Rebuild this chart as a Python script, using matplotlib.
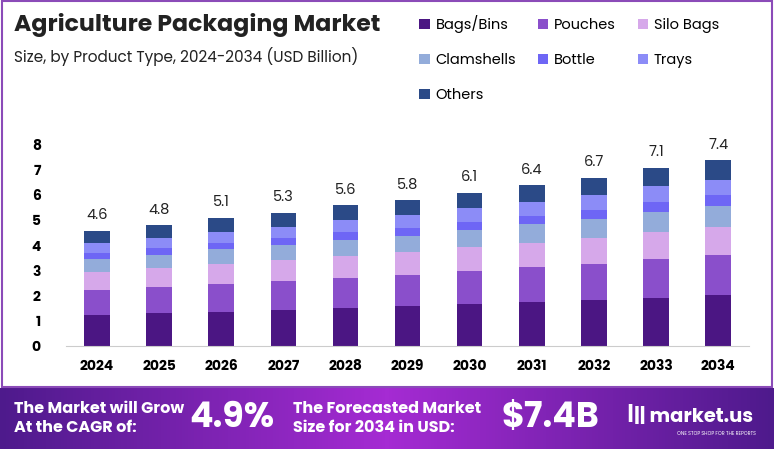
import matplotlib.pyplot as plt
import numpy as np
from matplotlib.patches import Rectangle

plt.rcParams['font.family'] = ['Poppins', 'Lato', 'DejaVu Sans']

years = ['2024', '2025', '2026', '2027', '2028', '2029', '2030', '2031', '2032', '2033', '2034']
totals = [4.6, 4.8, 5.1, 5.3, 5.6, 5.8, 6.1, 6.4, 6.7, 7.1, 7.4]
bags = [1.24, 1.30, 1.37, 1.43, 1.51, 1.58, 1.66, 1.74, 1.82, 1.93, 2.03]
pouches = [1.00, 1.05, 1.11, 1.16, 1.22, 1.27, 1.33, 1.40, 1.46, 1.55, 1.60]
silo = [0.72, 0.75, 0.79, 0.82, 0.87, 0.89, 0.94, 0.98, 1.02, 1.07, 1.10]
clam = [0.52, 0.54, 0.58, 0.60, 0.63, 0.66, 0.69, 0.73, 0.76, 0.80, 0.84]
bottle = [0.24, 0.25, 0.27, 0.28, 0.30, 0.31, 0.33, 0.34, 0.36, 0.40, 0.44]
trays = [0.40, 0.42, 0.44, 0.46, 0.49, 0.50, 0.53, 0.56, 0.59, 0.62, 0.60]
others = [0.48, 0.49, 0.54, 0.55, 0.58, 0.59, 0.62, 0.65, 0.69, 0.73, 0.79]

series = [('Bags/Bins', bags, '#4B1683'), ('Pouches', pouches, '#8A4FCB'),
          ('Silo Bags', silo, '#D6A8EA'), ('Clamshells', clam, '#93ACDA'),
          ('Bottle', bottle, '#6E66F5'), ('Trays', trays, '#8C8CF7'),
          ('Others', others, '#2B4A87')]

fig = plt.figure(figsize=(7.74, 4.49), dpi=100)

# frame and banner
fig.patches.append(Rectangle((0.003, 0.137), 0.994, 0.86, transform=fig.transFigure,
                             fill=False, ec='#8B4BB8', lw=1.5))
grad = np.concatenate([np.linspace(0, 1, 128), np.linspace(1, 0, 128)[1:]])
bax = fig.add_axes([0, 0, 1, 0.135])
bax.imshow(grad[None, :], aspect='auto', extent=[0, 1, 0, 1],
           cmap=plt.matplotlib.colors.LinearSegmentedColormap.from_list('b', ['#4E1A8C', '#A52BD3']))
bax.set_xlim(0, 1); bax.set_ylim(0, 1); bax.axis('off')
bax.text(0.018, 0.5, 'The Market will Grow\nAt the CAGR of:', color='white', fontsize=11.5,
         fontweight='bold', va='center', linespacing=1.2)
bax.text(0.245, 0.5, '4.9%', color='white', fontsize=25, fontweight='bold', va='center')
bax.text(0.378, 0.5, 'The Forecasted Market\nSize for 2034 in USD:', color='white', fontsize=11.5,
         fontweight='bold', va='center', linespacing=1.2)
bax.text(0.648, 0.5, '$7.4B', color='white', fontsize=25, fontweight='bold', va='center')
bax.text(0.81, 0.52, 'ꟾ|| market.us', color='white', fontsize=14, fontweight='bold', va='center')
bax.text(0.875, 0.25, 'ONE STOP SHOP FOR THE REPORTS', color='white', fontsize=3.5, va='center')

ax = fig.add_axes([0.085, 0.229, 0.883, 0.476])
x = np.arange(len(years))
bottom = np.zeros(len(years))
for name, vals, col in series:
    ax.bar(x, vals, 0.41, bottom=bottom, color=col, label=name)
    bottom += np.array(vals)
for xi, t in zip(x, totals):
    ax.text(xi, t + 0.3, f'{t}', ha='center', va='bottom', fontsize=10.5, color='#222222')

ax.set_xlim(-0.5, 10.5)
ax.set_ylim(0, 8.5)
ax.set_yticks(range(0, 9))
ax.set_xticks(x)
ax.set_xticklabels(years, fontweight='bold', fontsize=10)
ax.tick_params(axis='y', labelsize=10, length=0, pad=18)
ax.tick_params(axis='x', length=0, pad=10)
for lbl in ax.get_yticklabels():
    lbl.set_fontweight('bold')
for s in ['top', 'right', 'left']:
    ax.spines[s].set_visible(False)
ax.spines['bottom'].set_color('#cccccc')

fig.text(0.018, 0.945, 'Agriculture Packaging Market', fontsize=17, fontweight='bold',
         color='#222222', va='center')
fig.text(0.018, 0.875, 'Size, by Product Type, 2024-2034 (USD Billion)', fontsize=11,
         color='#222222', va='center')
handles, labels = ax.get_legend_handles_labels()
order = [0, 3, 6, 1, 4, 2, 5]  # row-wise layout
fig.legend([handles[i] for i in order], [labels[i] for i in order], ncol=3,
           loc='upper left', bbox_to_anchor=(0.525, 0.995),
           frameon=False, fontsize=10.5, handlelength=0.7, handleheight=0.7,
           columnspacing=1.5, labelspacing=1.35, handletextpad=0.4)

fig.savefig('out.png', dpi=100)
